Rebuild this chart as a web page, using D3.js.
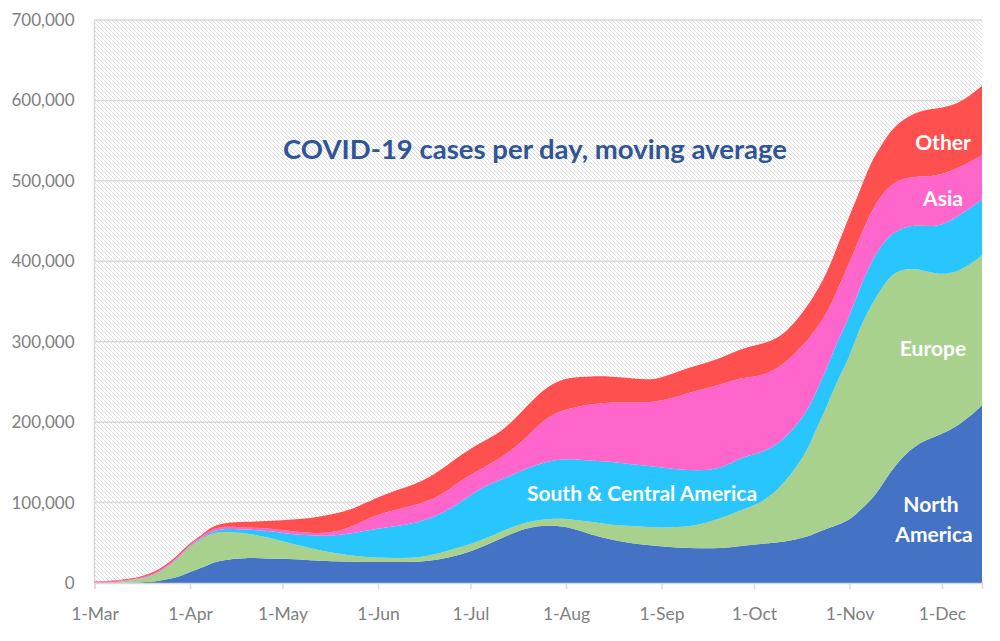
<!DOCTYPE html>
<html>
<head>
<meta charset="utf-8">
<script src="https://cdn.jsdelivr.net/npm/d3@7"></script>
<style>
  html, body { margin: 0; padding: 0; background: #ffffff; }
  svg { display: block; }
</style>
</head>
<body>
<svg id="chart" width="1000" height="641"></svg>
<script>
// ---------------- DATA (daily cases, 7-day moving average, thousands) ----------------
const dates = [
  "2020-03-01","2020-03-08","2020-03-15","2020-03-22","2020-03-29",
  "2020-04-01","2020-04-05","2020-04-08","2020-04-12","2020-04-19","2020-04-26","2020-05-03",
  "2020-05-10","2020-05-17","2020-05-24","2020-05-31","2020-06-07",
  "2020-06-14","2020-06-21","2020-06-28","2020-07-05","2020-07-12",
  "2020-07-19","2020-07-26","2020-08-02","2020-08-09","2020-08-16",
  "2020-08-23","2020-08-30","2020-09-06","2020-09-13","2020-09-20",
  "2020-09-27","2020-10-04","2020-10-11","2020-10-18","2020-10-21",
  "2020-10-25","2020-10-28","2020-11-01","2020-11-04","2020-11-08",
  "2020-11-11","2020-11-15","2020-11-22","2020-11-29","2020-12-06",
  "2020-12-13","2020-12-14"
];
const northAmerica = [
  0, 0.1, 0.5, 2, 8,
  14, 19, 25, 29, 31.5, 30.5, 30,
  28, 27, 26.5, 26, 26,
  26, 29, 35, 45, 57.5,
  69, 72, 70, 60, 53.5,
  49, 46, 44, 43, 43,
  46, 49, 51, 57, 62,
  68, 72, 78, 89, 103,
  118, 143, 172, 182, 194,
  217, 221
];
const europe = [
  0.1, 0.9, 3.5, 9, 25,
  32, 36.5, 37, 35, 30.5, 27, 20,
  15.5, 10.5, 7, 5.5, 5,
  5, 8, 10, 8.5, 8.5,
  7, 8, 10, 16, 18.5,
  22, 23, 25, 29, 37,
  45, 51, 73, 104, 128,
  154, 180, 202, 226, 242,
  246, 244, 221, 201, 191,
  187, 187
];
const southCentralAmerica = [
  0, 0, 0.2, 0.4, 1,
  1, 1, 2, 4, 4.5, 7.5, 11,
  15.5, 21, 28.5, 35.5, 40,
  44, 47.5, 56, 66.5, 64,
  66, 72, 75, 76, 79,
  76, 76, 72, 68, 61,
  66, 62, 54, 50, 46,
  48, 48, 51, 49, 54,
  54, 50, 54, 58, 70,
  70, 69
];
const asia = [
  1.4, 1.5, 1.0, 1.4, 1.5,
  1.5, 1.5, 3, 3, 2.5, 3, 4,
  3, 3.5, 8, 17.5, 20,
  23, 22.5, 27, 23, 28,
  38, 56, 62.5, 70.5, 74,
  77, 80, 90.6, 100, 105,
  99, 95, 94, 89, 79,
  67, 64, 68, 62, 63,
  62, 62, 59, 64, 60,
  56, 55
];
const other = [
  0.3, 0.7, 1.0, 2.2, 2.5,
  1.5, 2, 3, 4, 7, 9, 13.5,
  18.5, 23, 22, 20.5, 24.6,
  26, 32, 32, 33, 32,
  39, 38, 38.5, 34.5, 32,
  30, 27, 31, 31, 33,
  36, 40, 36, 42, 45,
  51, 54, 58, 58, 62,
  62, 68, 80, 85, 79,
  85, 86
];
const seriesNames = ["North America", "Europe", "South & Central America", "Asia", "Other"];
const seriesValues = [northAmerica, europe, southCentralAmerica, asia, other];
const seriesColors = ["#4472C4", "#A9D18E", "#29C5FE", "#FF66CC", "#FF5050"];

const xTickDates = ["2020-03-01","2020-04-01","2020-05-01","2020-06-01","2020-07-01",
                    "2020-08-01","2020-09-01","2020-10-01","2020-11-01","2020-12-01"];
const xTickLabels = ["1-Mar","1-Apr","1-May","1-Jun","1-Jul","1-Aug","1-Sep","1-Oct","1-Nov","1-Dec"];
const yTicks = [0, 100000, 200000, 300000, 400000, 500000, 600000, 700000];
const yTickLabels = ["0","100,000","200,000","300,000","400,000","500,000","600,000","700,000"];
const titleText = "COVID-19 cases per day, moving average";

// ---------------- LAYOUT ----------------
const svg = d3.select("#chart");
const X0 = 94.5, X1 = 982, Y0 = 583, Y1 = 20;
const parse = d3.utcParse("%Y-%m-%d");
const dateObjs = dates.map(parse);

const x = d3.scaleUtc()
  .domain([parse("2020-03-01"), parse("2020-12-14")])
  .range([X0, X1]);
const y = d3.scaleLinear().domain([0, 700000]).range([Y0, Y1]);

const rows = dateObjs.map((d, i) => {
  const r = { date: d };
  seriesNames.forEach((n, k) => { r[n] = seriesValues[k][i] * 1000; });
  return r;
});

// hatch pattern
const defs = svg.append("defs");
const pat = defs.append("pattern")
  .attr("id", "hatch").attr("patternUnits", "userSpaceOnUse")
  .attr("width", 4).attr("height", 4);
pat.append("rect").attr("width", 4).attr("height", 4).attr("fill", "#ffffff");
pat.append("path")
  .attr("d", "M-1,-1 L5,5 M3,-1 L5,1 M-1,3 L1,5")
  .attr("stroke", "#d8d8d8").attr("stroke-width", 0.9);

svg.append("rect")
  .attr("x", X0).attr("y", Y1)
  .attr("width", X1 - X0).attr("height", Y0 - Y1)
  .attr("fill", "url(#hatch)");

// gridlines
svg.append("g").selectAll("line").data(yTicks.slice(1)).join("line")
  .attr("x1", X0).attr("x2", X1)
  .attr("y1", d => y(d)).attr("y2", d => y(d))
  .attr("stroke", "#d9d9d9").attr("stroke-width", 1.5);

// left axis line
svg.append("line").attr("x1", X0).attr("x2", X0).attr("y1", Y1).attr("y2", Y0)
  .attr("stroke", "#d9d9d9").attr("stroke-width", 1.5);

// stacked areas
const stack = d3.stack().keys(seriesNames);
const stacked = stack(rows);
const area = d3.area()
  .x(d => x(d.data.date))
  .y0(d => y(d[0]))
  .y1(d => y(d[1]))
  .curve(d3.curveBasis);

svg.append("g").selectAll("path").data(stacked).join("path")
  .attr("d", area)
  .attr("fill", (d, i) => seriesColors[i]);

// x axis
const xAxis = d3.axisBottom(x)
  .tickValues(xTickDates.map(parse))
  .tickFormat((d, i) => xTickLabels[i])
  .tickSize(6).tickPadding(19);
const gx = svg.append("g").attr("transform", `translate(0,${Y0})`).call(xAxis);
gx.select(".domain").attr("stroke", "#d9d9d9").attr("stroke-width", 1.5);
gx.selectAll(".tick line").attr("stroke", "#d9d9d9").attr("stroke-width", 1.5);
gx.selectAll(".tick text")
  .attr("fill", "#808080")
  .style("font-family", "Lato, 'Open Sans', sans-serif")
  .style("font-size", "17.5px");

// y axis
const yAxis = d3.axisLeft(y)
  .tickValues(yTicks)
  .tickFormat((d, i) => yTickLabels[i])
  .tickSize(0).tickPadding(20);
const gy = svg.append("g").attr("transform", `translate(${X0},0)`).call(yAxis);
gy.select(".domain").remove();
gy.selectAll(".tick text")
  .attr("fill", "#808080")
  .style("font-family", "Lato, 'Open Sans', sans-serif")
  .style("font-size", "17px");

// title
const title = svg.append("text")
  .attr("x", 535).attr("y", 159)
  .attr("text-anchor", "middle")
  .attr("fill", "#2F5597")
  .style("font-family", "Lato, 'Open Sans', sans-serif")
  .style("font-weight", "bold")
  .style("font-size", "24px")
  .text(titleText);
(function fit(el, target) {
  const w = el.node().getComputedTextLength();
  const fs = parseFloat(el.style("font-size"));
  el.style("font-size", (fs * target / w).toFixed(2) + "px");
})(title, 504);

// series labels
const labels = [
  { t: "Other", x: 943, y: 150 },
  { t: "Asia", x: 943, y: 206 },
  { t: "Europe", x: 933, y: 356 },
  { t: "South & Central America", x: 642, y: 501 },
  { t: "North", x: 931, y: 512 },
  { t: "America", x: 934, y: 542 }
];
svg.append("g").selectAll("text").data(labels).join("text")
  .attr("x", d => d.x).attr("y", d => d.y)
  .attr("text-anchor", "middle")
  .attr("fill", "#ffffff")
  .style("font-family", "Lato, 'Open Sans', sans-serif")
  .style("font-weight", "bold")
  .style("font-size", "21px")
  .text(d => d.t);
</script>
</body>
</html>
